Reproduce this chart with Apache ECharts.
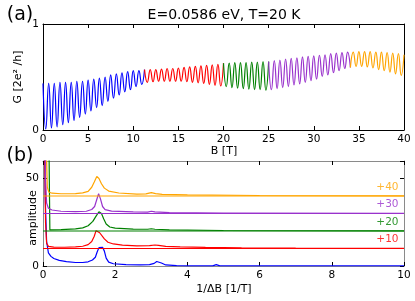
<!DOCTYPE html>
<html>
<head>
<meta charset="utf-8">
<script src="https://cdn.jsdelivr.net/npm/echarts@6/dist/echarts.min.js"></script>
<style>
html,body{margin:0;padding:0;background:#fff;}
#c{width:415px;height:301px;}
</style>
</head>
<body>
<div id="c"></div>
<script>
// ---------- Panel (a): conductance G vs B, extrema ----------
const segBlue = [[0,0.44],[0.31,0.01],[0.63,0.44],[0.94,0.02],[1.25,0.44],[1.56,0.03],[1.88,0.45],[2.19,0.05],[2.5,0.45],[2.81,0.07],[3.13,0.45],[3.44,0.09],[3.75,0.46],[4.06,0.12],[4.38,0.46],[4.69,0.15],[5.0,0.47],[5.31,0.18],[5.63,0.48],[5.94,0.21],[6.25,0.49],[6.56,0.23],[6.88,0.5],[7.19,0.27],[7.5,0.52],[7.81,0.3],[8.13,0.53],[8.44,0.33],[8.75,0.54],[9.06,0.36],[9.38,0.55],[9.69,0.38],[10.0,0.56],[10.31,0.41],[10.63,0.56],[10.94,0.43],[11.25,0.57]];
const segRed = [[11.25,0.57],[11.56,0.45],[11.88,0.57],[12.19,0.455],[12.5,0.57],[12.81,0.46],[13.13,0.575],[13.44,0.46],[13.75,0.58],[14.06,0.46],[14.38,0.58],[14.69,0.46],[15.0,0.585],[15.31,0.46],[15.63,0.59],[15.94,0.455],[16.25,0.595],[16.56,0.45],[16.88,0.6],[17.19,0.445],[17.5,0.605],[17.81,0.44],[18.13,0.61],[18.44,0.43],[18.75,0.615],[19.06,0.42],[19.38,0.62],[19.69,0.415],[20.0,0.63]];
const segGreen = [[20.0,0.63],[20.31,0.41],[20.63,0.63],[20.94,0.4],[21.25,0.635],[21.56,0.395],[21.88,0.635],[22.19,0.39],[22.5,0.635],[22.81,0.385],[23.13,0.64],[23.44,0.38],[23.75,0.64],[24.06,0.38],[24.38,0.645],[24.69,0.375],[25.0,0.645]];
const segPurple = [[25.0,0.645],[25.31,0.38],[25.63,0.655],[25.94,0.39],[26.25,0.66],[26.56,0.4],[26.88,0.67],[27.19,0.41],[27.5,0.675],[27.81,0.425],[28.13,0.68],[28.44,0.435],[28.75,0.69],[29.06,0.45],[29.38,0.695],[29.69,0.465],[30.0,0.7],[30.31,0.48],[30.63,0.705],[30.94,0.505],[31.25,0.71],[31.56,0.52],[31.88,0.72],[32.19,0.54],[32.5,0.725],[32.81,0.56],[33.13,0.73],[33.44,0.58],[33.75,0.735],[34.06,0.59]];
const segOrange = [[34.06,0.59],[34.38,0.735],[34.69,0.6],[35.0,0.74],[35.31,0.6],[35.63,0.74],[35.94,0.595],[36.25,0.74],[36.56,0.585],[36.88,0.735],[37.19,0.57],[37.5,0.735],[37.81,0.56],[38.13,0.73],[38.44,0.545],[38.75,0.725],[39.06,0.53],[39.38,0.72],[39.69,0.515],[40.0,0.71]];

// ---------- Panel (b): FFT amplitude vs 1/ΔB (already offset) ----------
const fftBlue = [[0,400],[0.03,120],[0.06,40],[0.1,14],[0.15,7.5],[0.22,5.5],[0.3,4.3],[0.45,3.2],[0.65,2.5],[0.9,2.0],[1.1,2.0],[1.25,2.4],[1.37,3.4],[1.45,5],[1.5,8],[1.55,10.5],[1.6,10.1],[1.65,10.7],[1.7,8.5],[1.75,4.5],[1.82,2.2],[1.95,1.3],[2.3,0.8],[2.7,0.6],[2.95,0.8],[3.08,1.5],[3.15,2.6],[3.2,3.0],[3.28,1.7],[3.4,0.6],[3.7,0.2],[4.0,0.1],[4.7,0.1],[4.8,0.8],[4.9,0.1],[6,0.05],[10,0.05]];
const fftRed = [[0,400],[0.04,80],[0.07,25],[0.1,13],[0.15,11.2],[0.3,10.8],[0.6,10.7],[0.9,10.9],[1.1,11.3],[1.25,12.2],[1.35,14],[1.42,17],[1.47,20.2],[1.52,20.4],[1.57,19],[1.62,18.5],[1.7,15.5],[1.8,13.6],[1.95,12.6],[2.2,11.9],[2.6,11.5],[2.95,11.6],[3.1,12.0],[3.2,11.8],[3.4,11.2],[3.8,10.9],[4.5,10.6],[5.5,10.4],[7,10.2],[10,10.1]];
const fftGreen = [[0,500],[0.15,200],[0.17,60],[0.19,20.6],[0.5,20.8],[0.9,21.2],[1.1,21.8],[1.25,23],[1.38,25.5],[1.47,28.5],[1.55,31],[1.58,31.2],[1.62,30],[1.68,27],[1.75,24],[1.85,22.3],[2.0,21.6],[2.5,21.1],[2.9,21.0],[3.0,21.3],[3.1,21.0],[3.5,20.6],[5,20.3],[10,20.1]];
const fftPurple = [[0,500],[0.04,150],[0.07,50],[0.1,36],[0.15,33],[0.25,32],[0.5,31.3],[0.9,31.1],[1.2,31.3],[1.35,32.3],[1.43,34],[1.49,38],[1.54,41.3],[1.59,38.5],[1.65,34],[1.72,32.2],[1.9,31.4],[2.5,30.9],[2.9,30.8],[3.0,31.3],[3.1,30.9],[3.5,30.5],[5,30.3],[10,30.1]];
const fftOrange = [[0,500],[0.08,150],[0.1,60],[0.12,45],[0.16,42.3],[0.25,41.6],[0.5,41.3],[0.9,41.4],[1.1,41.8],[1.25,42.6],[1.35,45],[1.42,48],[1.49,51.2],[1.55,50],[1.62,47],[1.7,44.5],[1.82,42.8],[2.1,41.7],[2.6,41.1],[2.85,41.2],[3.0,41.9],[3.12,41.4],[3.3,40.9],[4,40.6],[6,40.3],[10,40.1]];
const fftOffsets = [10, 20, 30, 40];
const offsetLabels = ['+10', '+20', '+30', '+40'];

const COLORS = { blue:'#0000ff', red:'#ff0000', green:'#008000', purple:'#9932cc', orange:'#ffa500' };
const offsetColors = [COLORS.red, COLORS.green, COLORS.purple, COLORS.orange];
const FONT = 'DejaVu Sans';

const chart = echarts.init(document.getElementById('c'), null, {renderer:'canvas'});

function axisX(gridIndex, pos, min, max, interval, lineColor, showLabel) {
  return {
    type:'value', gridIndex, position:pos, min, max, interval,
    axisLine:{show:true, onZero:false, lineStyle:{color:lineColor, width:1}},
    axisTick:{show:true, inside:true, length:4, lineStyle:{color:'#000'}},
    axisLabel:{show:showLabel, color:'#000', fontFamily:FONT, fontSize:10.5, margin:4},
    splitLine:{show:false}
  };
}
function axisY(gridIndex, pos, min, max, interval, lineColor, showLabel, fmt) {
  return {
    type:'value', gridIndex, position:pos, min, max, interval,
    axisLine:{show:true, onZero:false, lineStyle:{color:lineColor, width:1}},
    axisTick:{show:true, inside:true, length:4, lineStyle:{color:'#000'}},
    axisLabel:{show:showLabel, color:'#000', fontFamily:FONT, fontSize:10.5, margin:4, formatter:fmt},
    splitLine:{show:false}
  };
}

function gLine(data, color) {
  return {type:'line', xAxisIndex:0, yAxisIndex:0, data, smooth:0.5, showSymbol:false, symbol:'none',
    lineStyle:{color, width:1.2}, itemStyle:{color}, silent:true, animation:false, clip:true};
}
function fLine(data, color, w) {
  return {type:'line', xAxisIndex:2, yAxisIndex:2, data, smooth:false, showSymbol:false, symbol:'none',
    lineStyle:{color, width:w||1.2}, itemStyle:{color}, silent:true, animation:false, clip:true};
}

const series = [
  gLine(segBlue, COLORS.blue), gLine(segRed, COLORS.red), gLine(segGreen, COLORS.green),
  gLine(segPurple, COLORS.purple), gLine(segOrange, COLORS.orange),
  fLine(fftBlue, COLORS.blue), fLine(fftRed, COLORS.red), fLine(fftGreen, COLORS.green),
  fLine(fftPurple, COLORS.purple), fLine(fftOrange, COLORS.orange)
];
// baselines of the offset curves
fftOffsets.forEach((o, i) => {
  series.push(fLine([[0, o], [10, o]], offsetColors[i], 1.2));
});
// offset labels
series.push({
  type:'scatter', xAxisIndex:2, yAxisIndex:2, symbolSize:1, itemStyle:{color:'rgba(0,0,0,0)'},
  silent:true, animation:false,
  data: fftOffsets.map((o, i) => ({
    value:[10, o],
    label:{show:true, formatter:offsetLabels[i], position:'left', distance:5, offset:[0,-9],
      color:offsetColors[i], fontFamily:FONT, fontSize:10.5}
  }))
});

chart.setOption({
  animation:false,
  backgroundColor:'#fff',
  grid:[
    {left:43, right:11, top:24, height:106},
    {left:43, right:11, top:161, height:105}
  ],
  xAxis:[
    axisX(0, 'bottom', 0, 40, 5, '#000', true),
    axisX(0, 'top', 0, 40, 5, '#000', false),
    axisX(1, 'bottom', 0, 10, 2, '#8a8a8a', true),
    axisX(1, 'top', 0, 10, 2, '#8a8a8a', false)
  ],
  yAxis:[
    axisY(0, 'left', 0, 1, 1, '#000', true),
    axisY(0, 'right', 0, 1, 1, '#000', false),
    axisY(1, 'left', 0, 60, 50, '#8a8a8a', true, v => (v === 0 || v === 50) ? String(v) : ''),
    axisY(1, 'right', 0, 60, 50, '#8a8a8a', false)
  ],
  series,
  graphic:[
    {type:'text', x:20, y:15, style:{text:'(a)', font:'19px "DejaVu Sans"', fill:'#000', textAlign:'center', textVerticalAlign:'middle'}},
    {type:'text', x:224, y:15, style:{text:'E=0.0586 eV, T=20 K', font:'14px "DejaVu Sans"', fill:'#000', textAlign:'center', textVerticalAlign:'middle'}},
    {type:'text', x:18, y:77, rotation:Math.PI/2, style:{text:'G [2e² /h]', font:'11px "DejaVu Sans"', fill:'#000', textAlign:'center', textVerticalAlign:'middle'}},
    {type:'text', x:224, y:151, style:{text:'B [T]', font:'11px "DejaVu Sans"', fill:'#000', textAlign:'center', textVerticalAlign:'middle'}},
    {type:'text', x:20, y:156, style:{text:'(b)', font:'19px "DejaVu Sans"', fill:'#000', textAlign:'center', textVerticalAlign:'middle'}},
    {type:'text', x:33, y:218, rotation:Math.PI/2, style:{text:'amplitude', font:'11px "DejaVu Sans"', fill:'#000', textAlign:'center', textVerticalAlign:'middle'}},
    {type:'text', x:224, y:289, style:{text:'1/ΔB [1/T]', font:'11px "DejaVu Sans"', fill:'#000', textAlign:'center', textVerticalAlign:'middle'}}
  ]
});
</script>
</body>
</html>
